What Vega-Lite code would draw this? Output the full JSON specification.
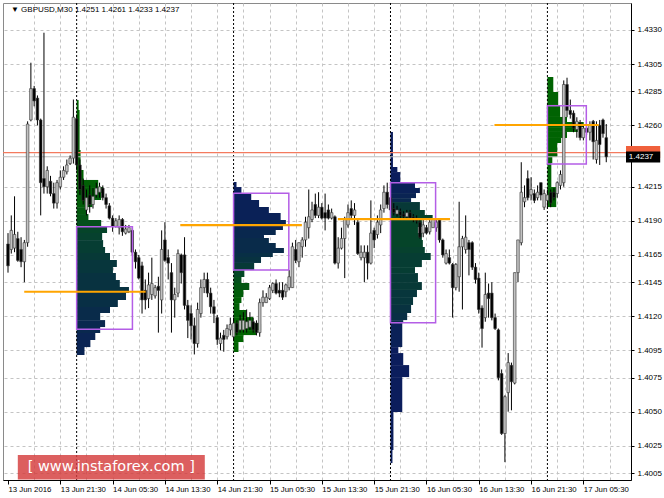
{
"$schema":"https://vega.github.io/schema/vega-lite/v6.json",
"width":628,"height":477,"autosize":"none",
"padding":{"left":3,"top":3,"right":33,"bottom":18},
"background":"white",
"config":{"view":{"stroke":"#8a8a8a","strokeWidth":1},"font":"Liberation Sans","axis":{"labelOverlap":false,"labelFlush":false,"labelBound":false}},
"datasets":{
"candles":[
{"i":0,"o":1.4173,"h":1.4181,"l":1.4152,"c":1.4157},{"i":1,"o":1.4169,"h":1.4194,"l":1.4166,"c":1.4183},{"i":2,"o":1.4170,"h":1.4208,"l":1.4167,"c":1.4180},{"i":3,"o":1.4177,"h":1.4182,"l":1.4160,"c":1.4161},{"i":4,"o":1.4169,"h":1.4178,"l":1.4156,"c":1.4160},{"i":5,"o":1.4160,"h":1.4176,"l":1.4145,"c":1.4174},{"i":6,"o":1.4174,"h":1.4263,"l":1.4171,"c":1.4261},{"i":7,"o":1.4264,"h":1.4306,"l":1.4263,"c":1.4287},{"i":8,"o":1.4287,"h":1.4289,"l":1.4274,"c":1.4278},{"i":9,"o":1.4280,"h":1.4282,"l":1.4260,"c":1.4264},
{"i":10,"o":1.4264,"h":1.4265,"l":1.4194,"c":1.4218},{"i":11,"o":1.4221,"h":1.4328,"l":1.4210,"c":1.4215},{"i":12,"o":1.4215,"h":1.4230,"l":1.4210,"c":1.4227},{"i":13,"o":1.4219,"h":1.4223,"l":1.4208,"c":1.4210},{"i":14,"o":1.4210,"h":1.4218,"l":1.4199,"c":1.4203},{"i":15,"o":1.4203,"h":1.4220,"l":1.4199,"c":1.4218},{"i":16,"o":1.4215,"h":1.4227,"l":1.4213,"c":1.4222},{"i":17,"o":1.4222,"h":1.4230,"l":1.4220,"c":1.4227},{"i":18,"o":1.4226,"h":1.4235,"l":1.4224,"c":1.4231},{"i":19,"o":1.4232,"h":1.4238,"l":1.4231,"c":1.4236},
{"i":20,"o":1.4236,"h":1.4279,"l":1.4232,"c":1.4266},{"i":21,"o":1.4265,"h":1.4268,"l":1.4227,"c":1.4231},{"i":22,"o":1.4231,"h":1.4235,"l":1.4209,"c":1.4213},{"i":23,"o":1.4216,"h":1.4221,"l":1.4202,"c":1.4205},{"i":24,"o":1.4198,"h":1.4213,"l":1.4194,"c":1.4207},{"i":25,"o":1.4209,"h":1.4216,"l":1.4196,"c":1.4202},{"i":26,"o":1.4202,"h":1.4214,"l":1.4199,"c":1.4208},{"i":27,"o":1.4209,"h":1.4218,"l":1.4207,"c":1.4214},{"i":28,"o":1.4211,"h":1.4218,"l":1.4207,"c":1.4215},{"i":29,"o":1.4214,"h":1.4216,"l":1.4205,"c":1.4207},
{"i":30,"o":1.4207,"h":1.4210,"l":1.4199,"c":1.4202},{"i":31,"o":1.4201,"h":1.4203,"l":1.4191,"c":1.4192},{"i":32,"o":1.4192,"h":1.4194,"l":1.4182,"c":1.4186},{"i":33,"o":1.4186,"h":1.4192,"l":1.4185,"c":1.4190},{"i":34,"o":1.4185,"h":1.4194,"l":1.4180,"c":1.4191},{"i":35,"o":1.4191,"h":1.4192,"l":1.4179,"c":1.4182},{"i":36,"o":1.4181,"h":1.4187,"l":1.4180,"c":1.4184},{"i":37,"o":1.4182,"h":1.4187,"l":1.4181,"c":1.4185},{"i":38,"o":1.4183,"h":1.4185,"l":1.4165,"c":1.4167},{"i":39,"o":1.4167,"h":1.4169,"l":1.4155,"c":1.4160},
{"i":40,"o":1.4163,"h":1.4165,"l":1.4147,"c":1.4148},{"i":41,"o":1.4157,"h":1.4160,"l":1.4122,"c":1.4132},{"i":42,"o":1.4139,"h":1.4147,"l":1.4125,"c":1.4132},{"i":43,"o":1.4133,"h":1.4152,"l":1.4126,"c":1.4143},{"i":44,"o":1.4136,"h":1.4163,"l":1.4132,"c":1.4144},{"i":45,"o":1.4135,"h":1.4143,"l":1.4133,"c":1.4141},{"i":46,"o":1.4142,"h":1.4149,"l":1.4108,"c":1.4139},{"i":47,"o":1.4132,"h":1.4183,"l":1.4122,"c":1.4169},{"i":48,"o":1.4176,"h":1.4189,"l":1.4160,"c":1.4161},{"i":49,"o":1.4163,"h":1.4169,"l":1.4147,"c":1.4159},
{"i":50,"o":1.4152,"h":1.4159,"l":1.4108,"c":1.4132},{"i":51,"o":1.4132,"h":1.4141,"l":1.4119,"c":1.4136},{"i":52,"o":1.4137,"h":1.4169,"l":1.4134,"c":1.4166},{"i":53,"o":1.4165,"h":1.4166,"l":1.4144,"c":1.4152},{"i":54,"o":1.4165,"h":1.4178,"l":1.4125,"c":1.4128},{"i":55,"o":1.4128,"h":1.4132,"l":1.4104,"c":1.4117},{"i":56,"o":1.4122,"h":1.4128,"l":1.4103,"c":1.4113},{"i":57,"o":1.4113,"h":1.4119,"l":1.4092,"c":1.4100},{"i":58,"o":1.4100,"h":1.4130,"l":1.4097,"c":1.4125},{"i":59,"o":1.4122,"h":1.4147,"l":1.4119,"c":1.4141},
{"i":60,"o":1.4141,"h":1.4152,"l":1.4137,"c":1.4147},{"i":61,"o":1.4147,"h":1.4152,"l":1.4134,"c":1.4137},{"i":62,"o":1.4137,"h":1.4141,"l":1.4122,"c":1.4127},{"i":63,"o":1.4127,"h":1.4132,"l":1.4115,"c":1.4122},{"i":64,"o":1.4119,"h":1.4121,"l":1.4099,"c":1.4103},{"i":65,"o":1.4100,"h":1.4108,"l":1.4095,"c":1.4104},{"i":66,"o":1.4106,"h":1.4110,"l":1.4094,"c":1.4103},{"i":67,"o":1.4105,"h":1.4114,"l":1.4103,"c":1.4111},{"i":68,"o":1.4110,"h":1.4119,"l":1.4106,"c":1.4114},{"i":69,"o":1.4105,"h":1.4119,"l":1.4103,"c":1.4115},
{"i":70,"o":1.4115,"h":1.4117,"l":1.4106,"c":1.4108},{"i":71,"o":1.4110,"h":1.4121,"l":1.4108,"c":1.4117},{"i":72,"o":1.4110,"h":1.4123,"l":1.4108,"c":1.4117},{"i":73,"o":1.4111,"h":1.4125,"l":1.4108,"c":1.4116},{"i":74,"o":1.4112,"h":1.4123,"l":1.4110,"c":1.4117},{"i":75,"o":1.4116,"h":1.4119,"l":1.4108,"c":1.4110},{"i":76,"o":1.4115,"h":1.4117,"l":1.4106,"c":1.4108},{"i":77,"o":1.4108,"h":1.4133,"l":1.4105,"c":1.4130},{"i":78,"o":1.4130,"h":1.4139,"l":1.4127,"c":1.4134},{"i":79,"o":1.4130,"h":1.4137,"l":1.4130,"c":1.4134},
{"i":80,"o":1.4133,"h":1.4143,"l":1.4132,"c":1.4141},{"i":81,"o":1.4139,"h":1.4145,"l":1.4137,"c":1.4144},{"i":82,"o":1.4144,"h":1.4147,"l":1.4136,"c":1.4137},{"i":83,"o":1.4139,"h":1.4145,"l":1.4134,"c":1.4137},{"i":84,"o":1.4139,"h":1.4145,"l":1.4132,"c":1.4134},{"i":85,"o":1.4138,"h":1.4144,"l":1.4134,"c":1.4143},{"i":86,"o":1.4141,"h":1.4154,"l":1.4139,"c":1.4149},{"i":87,"o":1.4141,"h":1.4174,"l":1.4141,"c":1.4171},{"i":88,"o":1.4169,"h":1.4176,"l":1.4159,"c":1.4161},{"i":89,"o":1.4160,"h":1.4174,"l":1.4156,"c":1.4174},
{"i":90,"o":1.4171,"h":1.4178,"l":1.4163,"c":1.4176},{"i":91,"o":1.4176,"h":1.4193,"l":1.4171,"c":1.4189},{"i":92,"o":1.4185,"h":1.4213,"l":1.4177,"c":1.4193},{"i":93,"o":1.4191,"h":1.4204,"l":1.4189,"c":1.4198},{"i":94,"o":1.4202,"h":1.4210,"l":1.4192,"c":1.4194},{"i":95,"o":1.4194,"h":1.4211,"l":1.4192,"c":1.4200},{"i":96,"o":1.4200,"h":1.4203,"l":1.4191,"c":1.4192},{"i":97,"o":1.4196,"h":1.4210,"l":1.4183,"c":1.4192},{"i":98,"o":1.4198,"h":1.4202,"l":1.4191,"c":1.4192},{"i":99,"o":1.4192,"h":1.4199,"l":1.4191,"c":1.4196},
{"i":100,"o":1.4193,"h":1.4194,"l":1.4158,"c":1.4159},{"i":101,"o":1.4159,"h":1.4178,"l":1.4155,"c":1.4170},{"i":102,"o":1.4170,"h":1.4185,"l":1.4169,"c":1.4177},{"i":103,"o":1.4177,"h":1.4193,"l":1.4148,"c":1.4191},{"i":104,"o":1.4187,"h":1.4202,"l":1.4185,"c":1.4196},{"i":105,"o":1.4199,"h":1.4205,"l":1.4191,"c":1.4194},{"i":106,"o":1.4194,"h":1.4203,"l":1.4187,"c":1.4198},{"i":107,"o":1.4189,"h":1.4191,"l":1.4165,"c":1.4166},{"i":108,"o":1.4163,"h":1.4172,"l":1.4161,"c":1.4167},{"i":109,"o":1.4163,"h":1.4172,"l":1.4145,"c":1.4167},
{"i":110,"o":1.4167,"h":1.4172,"l":1.4147,"c":1.4159},{"i":111,"o":1.4159,"h":1.4205,"l":1.4158,"c":1.4181},{"i":112,"o":1.4183,"h":1.4185,"l":1.4170,"c":1.4176},{"i":113,"o":1.4180,"h":1.4194,"l":1.4177,"c":1.4189},{"i":114,"o":1.4187,"h":1.4202,"l":1.4181,"c":1.4198},{"i":115,"o":1.4199,"h":1.4216,"l":1.4196,"c":1.4211},{"i":116,"o":1.4211,"h":1.4218,"l":1.4199,"c":1.4202},{"i":117,"o":1.4207,"h":1.4213,"l":1.4194,"c":1.4198},{"i":118,"o":1.4199,"h":1.4203,"l":1.4194,"c":1.4196},{"i":119,"o":1.4195,"h":1.4201,"l":1.4193,"c":1.4198},
{"i":120,"o":1.4197,"h":1.4199,"l":1.4192,"c":1.4194},{"i":121,"o":1.4195,"h":1.4197,"l":1.4191,"c":1.4193},{"i":122,"o":1.4193,"h":1.4198,"l":1.4191,"c":1.4196},{"i":123,"o":1.4196,"h":1.4198,"l":1.4191,"c":1.4192},{"i":124,"o":1.4193,"h":1.4195,"l":1.4189,"c":1.4191},{"i":125,"o":1.4192,"h":1.4194,"l":1.4188,"c":1.4190},{"i":126,"o":1.4189,"h":1.4191,"l":1.4177,"c":1.4178},{"i":127,"o":1.4181,"h":1.4191,"l":1.4178,"c":1.4187},{"i":128,"o":1.4185,"h":1.4187,"l":1.4180,"c":1.4181},{"i":129,"o":1.4182,"h":1.4191,"l":1.4180,"c":1.4189},
{"i":130,"o":1.4185,"h":1.4192,"l":1.4185,"c":1.4191},{"i":131,"o":1.4185,"h":1.4191,"l":1.4182,"c":1.4189},{"i":132,"o":1.4191,"h":1.4192,"l":1.4174,"c":1.4176},{"i":133,"o":1.4176,"h":1.4177,"l":1.4163,"c":1.4165},{"i":134,"o":1.4159,"h":1.4169,"l":1.4158,"c":1.4166},{"i":135,"o":1.4163,"h":1.4169,"l":1.4158,"c":1.4159},{"i":136,"o":1.4158,"h":1.4159,"l":1.4119,"c":1.4141},{"i":137,"o":1.4141,"h":1.4159,"l":1.4139,"c":1.4158},{"i":138,"o":1.4149,"h":1.4204,"l":1.4138,"c":1.4171},{"i":139,"o":1.4171,"h":1.4179,"l":1.4125,"c":1.4177},
{"i":140,"o":1.4169,"h":1.4194,"l":1.4166,"c":1.4178},{"i":141,"o":1.4174,"h":1.4176,"l":1.4150,"c":1.4169},{"i":142,"o":1.4174,"h":1.4175,"l":1.4154,"c":1.4156},{"i":143,"o":1.4156,"h":1.4159,"l":1.4144,"c":1.4147},{"i":144,"o":1.4148,"h":1.4152,"l":1.4122,"c":1.4125},{"i":145,"o":1.4126,"h":1.4128,"l":1.4097,"c":1.4111},{"i":146,"o":1.4119,"h":1.4152,"l":1.4116,"c":1.4136},{"i":147,"o":1.4137,"h":1.4144,"l":1.4119,"c":1.4133},{"i":148,"o":1.4137,"h":1.4145,"l":1.4117,"c":1.4119},{"i":149,"o":1.4119,"h":1.4122,"l":1.4110,"c":1.4111},
{"i":150,"o":1.4110,"h":1.4111,"l":1.4073,"c":1.4075},{"i":151,"o":1.4078,"h":1.4081,"l":1.4033,"c":1.4034},{"i":152,"o":1.4034,"h":1.4062,"l":1.4013,"c":1.4061},{"i":153,"o":1.4064,"h":1.4093,"l":1.4050,"c":1.4086},{"i":154,"o":1.4084,"h":1.4086,"l":1.4051,"c":1.4072},{"i":155,"o":1.4071,"h":1.4152,"l":1.4070,"c":1.4152},{"i":156,"o":1.4152,"h":1.4176,"l":1.4145,"c":1.4176},{"i":157,"o":1.4174,"h":1.4233,"l":1.4172,"c":1.4211},{"i":158,"o":1.4204,"h":1.4216,"l":1.4200,"c":1.4207},{"i":159,"o":1.4221,"h":1.4227,"l":1.4205,"c":1.4207},
{"i":160,"o":1.4209,"h":1.4222,"l":1.4205,"c":1.4213},{"i":161,"o":1.4210,"h":1.4213,"l":1.4203,"c":1.4205},{"i":162,"o":1.4207,"h":1.4216,"l":1.4205,"c":1.4211},{"i":163,"o":1.4218,"h":1.4218,"l":1.4205,"c":1.4209},{"i":164,"o":1.4200,"h":1.4213,"l":1.4198,"c":1.4210},{"i":165,"o":1.4205,"h":1.4213,"l":1.4199,"c":1.4209},{"i":166,"o":1.4211,"h":1.4213,"l":1.4200,"c":1.4203},{"i":167,"o":1.4211,"h":1.4214,"l":1.4205,"c":1.4207},{"i":168,"o":1.4210,"h":1.4219,"l":1.4207,"c":1.4218},{"i":169,"o":1.4216,"h":1.4227,"l":1.4213,"c":1.4224},
{"i":170,"o":1.4218,"h":1.4293,"l":1.4215,"c":1.4290},{"i":171,"o":1.4290,"h":1.4295,"l":1.4266,"c":1.4271},{"i":172,"o":1.4271,"h":1.4279,"l":1.4265,"c":1.4268},{"i":173,"o":1.4269,"h":1.4271,"l":1.4255,"c":1.4258},{"i":174,"o":1.4257,"h":1.4266,"l":1.4251,"c":1.4263},{"i":175,"o":1.4262,"h":1.4264,"l":1.4249,"c":1.4251},{"i":176,"o":1.4251,"h":1.4260,"l":1.4249,"c":1.4258},{"i":177,"o":1.4258,"h":1.4260,"l":1.4253,"c":1.4255},{"i":178,"o":1.4255,"h":1.4263,"l":1.4249,"c":1.4260},{"i":179,"o":1.4263,"h":1.4264,"l":1.4235,"c":1.4248},
{"i":180,"o":1.4235,"h":1.4263,"l":1.4232,"c":1.4249},{"i":181,"o":1.4260,"h":1.4264,"l":1.4231,"c":1.4246},{"i":182,"o":1.4264,"h":1.4265,"l":1.4251,"c":1.4254},{"i":183,"o":1.4251,"h":1.4261,"l":1.4233,"c":1.4237}
],
"profile":[
{"b":21,"e":21.6,"lo":1.42713,"hi":1.42786,"t":0},{"b":21,"e":21.9,"lo":1.42420,"hi":1.42713,"t":0},{"b":21,"e":22.2,"lo":1.42273,"hi":1.42420,"t":0},{"b":21,"e":23.1,"lo":1.42200,"hi":1.42273,"t":0},{"b":21,"e":27.6,"lo":1.42148,"hi":1.42200,"t":0.05},{"b":21,"e":29.1,"lo":1.42104,"hi":1.42148,"t":0.05},{"b":21,"e":28.5,"lo":1.42053,"hi":1.42104,"t":0.1},{"b":21,"e":25.8,"lo":1.42001,"hi":1.42053,"t":0.1},{"b":21,"e":24.0,"lo":1.41950,"hi":1.42001,"t":0.15},{"b":21,"e":24.6,"lo":1.41906,"hi":1.41950,"t":0.2},
{"b":21,"e":28.5,"lo":1.41855,"hi":1.41906,"t":0.3},{"b":21,"e":30.3,"lo":1.41811,"hi":1.41855,"t":0.45},{"b":21,"e":28.8,"lo":1.41759,"hi":1.41811,"t":0.5},{"b":21,"e":29.1,"lo":1.41708,"hi":1.41759,"t":0.55},{"b":21,"e":29.7,"lo":1.41664,"hi":1.41708,"t":0.55},{"b":21,"e":31.2,"lo":1.41613,"hi":1.41664,"t":0.6},{"b":21,"e":33.3,"lo":1.41561,"hi":1.41613,"t":0.65},{"b":21,"e":32.1,"lo":1.41517,"hi":1.41561,"t":0.65},{"b":21,"e":33.0,"lo":1.41466,"hi":1.41517,"t":0.7},{"b":21,"e":34.2,"lo":1.41415,"hi":1.41466,"t":0.7},
{"b":21,"e":37.0,"lo":1.41371,"hi":1.41415,"t":0.7},{"b":21,"e":36.1,"lo":1.41319,"hi":1.41371,"t":0.75},{"b":21,"e":33.6,"lo":1.41268,"hi":1.41319,"t":0.75},{"b":21,"e":31.2,"lo":1.41224,"hi":1.41268,"t":0.8},{"b":21,"e":28.2,"lo":1.41172,"hi":1.41224,"t":0.8},{"b":21,"e":29.7,"lo":1.41121,"hi":1.41172,"t":0.85},{"b":21,"e":28.2,"lo":1.41077,"hi":1.41121,"t":0.85},{"b":21,"e":26.7,"lo":1.41026,"hi":1.41077,"t":0.9},{"b":21,"e":25.2,"lo":1.40974,"hi":1.41026,"t":0.9},{"b":21,"e":23.4,"lo":1.40916,"hi":1.40974,"t":0.9},
{"b":69,"e":69.9,"lo":1.42148,"hi":1.42185,"t":1},{"b":69,"e":71.4,"lo":1.42104,"hi":1.42148,"t":1},{"b":69,"e":74.4,"lo":1.42053,"hi":1.42104,"t":1},{"b":69,"e":76.8,"lo":1.42001,"hi":1.42053,"t":0.95},{"b":69,"e":79.8,"lo":1.41957,"hi":1.42001,"t":0.95},{"b":69,"e":83.4,"lo":1.41906,"hi":1.41957,"t":0.95},{"b":69,"e":85.0,"lo":1.41869,"hi":1.41906,"t":0.9},{"b":69,"e":84.1,"lo":1.41833,"hi":1.41869,"t":0.9},{"b":69,"e":81.9,"lo":1.41796,"hi":1.41833,"t":0.85},{"b":69,"e":78.3,"lo":1.41774,"hi":1.41796,"t":0.85},
{"b":69,"e":79.8,"lo":1.41737,"hi":1.41774,"t":0.8},{"b":69,"e":81.9,"lo":1.41701,"hi":1.41737,"t":0.8},{"b":69,"e":84.4,"lo":1.41664,"hi":1.41701,"t":0.8},{"b":69,"e":81.0,"lo":1.41635,"hi":1.41664,"t":0.75},{"b":69,"e":77.4,"lo":1.41591,"hi":1.41635,"t":0.7},{"b":69,"e":75.3,"lo":1.41539,"hi":1.41591,"t":0.6},{"b":69,"e":72.3,"lo":1.41488,"hi":1.41539,"t":0.4},{"b":69,"e":71.4,"lo":1.41444,"hi":1.41488,"t":0.3},{"b":69,"e":73.8,"lo":1.41393,"hi":1.41444,"t":0.2},{"b":69,"e":72.0,"lo":1.41341,"hi":1.41393,"t":0.1},
{"b":69,"e":71.4,"lo":1.41297,"hi":1.41341,"t":0.05},{"b":69,"e":70.8,"lo":1.41246,"hi":1.41297,"t":0.05},{"b":69,"e":72.9,"lo":1.41194,"hi":1.41246,"t":0.05},{"b":69,"e":75.0,"lo":1.41150,"hi":1.41194,"t":0},{"b":69,"e":77.4,"lo":1.41099,"hi":1.41150,"t":0},{"b":69,"e":75.9,"lo":1.41062,"hi":1.41099,"t":0},{"b":69,"e":72.0,"lo":1.41011,"hi":1.41062,"t":0},{"b":69,"e":70.5,"lo":1.40938,"hi":1.41011,"t":0},
{"b":117,"e":117.75,"lo":1.42295,"hi":1.42552,"t":1},{"b":117,"e":119.1,"lo":1.42258,"hi":1.42295,"t":1},{"b":117,"e":120.0,"lo":1.42178,"hi":1.42258,"t":1},{"b":117,"e":124.5,"lo":1.42141,"hi":1.42178,"t":0.95},{"b":117,"e":126.0,"lo":1.42104,"hi":1.42141,"t":0.95},{"b":117,"e":124.8,"lo":1.42067,"hi":1.42104,"t":0.9},{"b":117,"e":123.3,"lo":1.42038,"hi":1.42067,"t":0.85},{"b":117,"e":126.0,"lo":1.41979,"hi":1.42038,"t":0.6},{"b":117,"e":127.5,"lo":1.41943,"hi":1.41979,"t":0.5},{"b":117,"e":129.9,"lo":1.41906,"hi":1.41943,"t":0.45},
{"b":117,"e":126.6,"lo":1.41855,"hi":1.41906,"t":0.45},{"b":117,"e":125.4,"lo":1.41811,"hi":1.41855,"t":0.45},{"b":117,"e":126.6,"lo":1.41759,"hi":1.41811,"t":0.45},{"b":117,"e":126.9,"lo":1.41708,"hi":1.41759,"t":0.45},{"b":117,"e":127.5,"lo":1.41664,"hi":1.41708,"t":0.5},{"b":117,"e":129.3,"lo":1.41613,"hi":1.41664,"t":0.55},{"b":117,"e":126.6,"lo":1.41561,"hi":1.41613,"t":0.55},{"b":117,"e":124.5,"lo":1.41517,"hi":1.41561,"t":0.55},{"b":117,"e":125.4,"lo":1.41451,"hi":1.41517,"t":0.6},{"b":117,"e":126.6,"lo":1.41393,"hi":1.41451,"t":0.6},
{"b":117,"e":125.1,"lo":1.41341,"hi":1.41393,"t":0.65},{"b":117,"e":123.9,"lo":1.41283,"hi":1.41341,"t":0.65},{"b":117,"e":123.3,"lo":1.41224,"hi":1.41283,"t":0.7},{"b":117,"e":122.1,"lo":1.41172,"hi":1.41224,"t":0.75},{"b":117,"e":120.9,"lo":1.41150,"hi":1.41172,"t":0.8},{"b":117,"e":120.6,"lo":1.40974,"hi":1.41150,"t":0.95},{"b":117,"e":119.4,"lo":1.40930,"hi":1.40974,"t":1},{"b":117,"e":120.9,"lo":1.40842,"hi":1.40930,"t":1},{"b":117,"e":122.7,"lo":1.40754,"hi":1.40842,"t":1},{"b":117,"e":120.6,"lo":1.40498,"hi":1.40754,"t":1},
{"b":117,"e":117.9,"lo":1.40219,"hi":1.40498,"t":1},{"b":117,"e":117.6,"lo":1.40123,"hi":1.40219,"t":1},
{"b":165,"e":166.8,"lo":1.42845,"hi":1.42955,"t":0.02},{"b":165,"e":168.3,"lo":1.42750,"hi":1.42845,"t":0.02},{"b":165,"e":168.9,"lo":1.42662,"hi":1.42750,"t":0.02},{"b":165,"e":171.0,"lo":1.42625,"hi":1.42662,"t":0.02},{"b":165,"e":176.1,"lo":1.42588,"hi":1.42625,"t":0.02},{"b":165,"e":174.3,"lo":1.42552,"hi":1.42588,"t":0.02},{"b":165,"e":171.0,"lo":1.42508,"hi":1.42552,"t":0.02},{"b":165,"e":169.2,"lo":1.42471,"hi":1.42508,"t":0.02},{"b":165,"e":168.0,"lo":1.42368,"hi":1.42471,"t":0.02},{"b":165,"e":166.5,"lo":1.42324,"hi":1.42368,"t":0.02},
{"b":165,"e":166.2,"lo":1.42148,"hi":1.42324,"t":0.02},{"b":165,"e":167.7,"lo":1.42001,"hi":1.42148,"t":0.02}
],
"va":[{"b":21,"e":38.06,"lo":1.41104,"hi":1.41857},{"b":69,"e":85.9,"lo":1.41539,"hi":1.42102},{"b":117,"e":130.8,"lo":1.41153,"hi":1.42180},{"b":165,"e":176.9,"lo":1.42317,"hi":1.42745}],
"poc":[{"b":4.96,"e":42.1,"p":1.41380},{"b":52.7,"e":89.9,"p":1.41869},{"b":100.9,"e":135.2,"p":1.41913},{"b":148.8,"e":180.7,"p":1.42603}],
"sep":[{"i":21},{"i":69},{"i":117},{"i":165}]
},
"layer":[
{"data":{"name":"profile"},"mark":{"type":"rect","strokeWidth":0},
 "encoding":{
  "x":{"field":"b","type":"quantitative","title":null,"scale":{"domain":[0,189.04],"nice":false,"zero":false},
   "axis":{"title":null,"tickCount":40,"values":[0,8,16,24,32,40,48,56,64,72,80,88,96,104,112,120,128,136,144,152,160,168,176,184],
    "labelExpr":"datum.value % 16 === 0 ? ['13 Jun 2016','13 Jun 21:30','14 Jun 05:30','14 Jun 13:30','14 Jun 21:30','15 Jun 05:30','15 Jun 13:30','15 Jun 21:30','16 Jun 05:30','16 Jun 13:30','16 Jun 21:30','17 Jun 05:30'][datum.value / 16] : ''",
    "labelAlign":"left","labelBaseline":"top","labelPadding":1,"labelFontSize":7.8,"labelFont":"Liberation Sans","labelColor":"#000","labelOverlap":false,"labelFlush":false,"labelBound":false,
    "grid":true,"gridColor":"#c4c4c4","gridDash":[3,3],"gridOpacity":{"condition":{"test":"datum.value === 0","value":0},"value":1},
    "ticks":true,"tickSize":4,"tickColor":"#000","tickOpacity":{"condition":{"test":"datum.value % 16 === 0","value":1},"value":0},
    "domain":true,"domainColor":"#000","domainWidth":1}},
  "x2":{"field":"e"},
  "y":{"field":"lo","type":"quantitative","title":null,"scale":{"domain":[1.39999,1.43498],"nice":false,"zero":false},
   "axis":{"title":null,"orient":"right","tickCount":40,"values":[1.4330,1.4305,1.4285,1.4260,1.4215,1.4190,1.4165,1.4145,1.4120,1.4095,1.4075,1.4050,1.4025,1.4005],
    "format":".4f","labelFontSize":8,"labelFont":"Liberation Sans","labelColor":"#000","labelPadding":3,"labelOverlap":false,"labelFlush":false,"labelBound":false,"labelBaseline":"middle",
    "grid":true,"gridColor":"#c4c4c4","gridDash":[3,3],"ticks":true,"tickSize":3,"tickColor":"#000","domain":true,"domainColor":"#000","domainWidth":1}},
  "y2":{"field":"hi"},
  "color":{"field":"t","type":"quantitative","scale":{"domain":[0,1],"range":["#006400","#0b1d5c"],"interpolate":"rgb"},"legend":null}
 }},
{"data":{"name":"sep"},"mark":{"type":"rule","color":"#000","strokeDash":[2,2],"strokeWidth":1},
 "encoding":{"x":{"field":"i","type":"quantitative","title":null}}},
{"data":{"values":[{"p":1.4240}]},"mark":{"type":"rule","color":"#f47a5e","strokeWidth":1.3},
 "encoding":{"y":{"field":"p","type":"quantitative","title":null}}},
{"data":{"values":[{"p":1.4237}]},"mark":{"type":"rule","color":"#bdbdbd","strokeWidth":1},
 "encoding":{"y":{"field":"p","type":"quantitative","title":null}}},
{"data":{"name":"candles"},"mark":{"type":"rule","color":"#000","strokeWidth":1},
 "encoding":{"x":{"field":"i","type":"quantitative","title":null},"y":{"field":"l","type":"quantitative","title":null},"y2":{"field":"h"}}},
{"data":{"name":"candles"},"mark":{"type":"bar","size":2.6,"stroke":"#333","strokeWidth":0.6},
 "encoding":{"x":{"field":"i","type":"quantitative","title":null},"y":{"field":"o","type":"quantitative","title":null},"y2":{"field":"c"},
  "fill":{"condition":{"test":"datum.c >= datum.o","value":"#c2c2c2"},"value":"#000"}}},
{"data":{"name":"va"},"mark":{"type":"rect","fill":null,"fillOpacity":0,"stroke":"#b45ee6","strokeWidth":1.5},
 "encoding":{"x":{"field":"b","type":"quantitative","title":null},"x2":{"field":"e"},"y":{"field":"lo","type":"quantitative","title":null},"y2":{"field":"hi"}}},
{"data":{"name":"poc"},"mark":{"type":"rule","color":"#ffa500","strokeWidth":2.2},
 "encoding":{"x":{"field":"b","type":"quantitative","title":null},"x2":{"field":"e"},"y":{"field":"p","type":"quantitative","title":null}}},
{"data":{"values":[{"b":3.0,"e":60.2,"lo":1.40003,"hi":1.40182}]},"mark":{"type":"rect","fill":"#d43c3c","opacity":0.82},
 "encoding":{"x":{"field":"b","type":"quantitative","title":null},"x2":{"field":"e"},"y":{"field":"lo","type":"quantitative","title":null},"y2":{"field":"hi"}}},
{"data":{"values":[{"x":31.6,"y":1.40094,"label":"[  www.instaforex.com  ]"}]},"mark":{"type":"text","font":"DejaVu Sans","fontSize":14.5,"color":"#ffffff","align":"center","baseline":"middle"},
 "encoding":{"x":{"field":"x","type":"quantitative","title":null},"y":{"field":"y","type":"quantitative","title":null},"text":{"field":"label"}}},
{"data":{"values":[{"x":0.9,"y":1.43447,"label":"▼ GBPUSD,M30  1.4251 1.4261 1.4233 1.4237"}]},"mark":{"type":"text","font":"Liberation Sans","fontSize":8,"color":"#000","align":"left","baseline":"middle"},
 "encoding":{"x":{"field":"x","type":"quantitative","title":null},"y":{"field":"y","type":"quantitative","title":null},"text":{"field":"label"}}},
{"data":{"values":[{"b":189.04,"e":199.5,"lo":1.42361,"hi":1.42449,"k":"a"},{"b":189.04,"e":199.5,"lo":1.42328,"hi":1.42409,"k":"b"}]},"mark":{"type":"rect","clip":false},
 "encoding":{"x":{"field":"b","type":"quantitative","title":null},"x2":{"field":"e"},"y":{"field":"lo","type":"quantitative","title":null},"y2":{"field":"hi"},
  "fill":{"condition":{"test":"datum.k === 'a'","value":"#f0603c"},"value":"#000"}}},
{"data":{"values":[{"x":189.9,"y":1.42368,"label":"1.4237"}]},"mark":{"type":"text","font":"Liberation Sans","fontSize":8,"color":"#fff","align":"left","baseline":"middle","clip":false},
 "encoding":{"x":{"field":"x","type":"quantitative","title":null},"y":{"field":"y","type":"quantitative","title":null},"text":{"field":"label"}}}
]
}
